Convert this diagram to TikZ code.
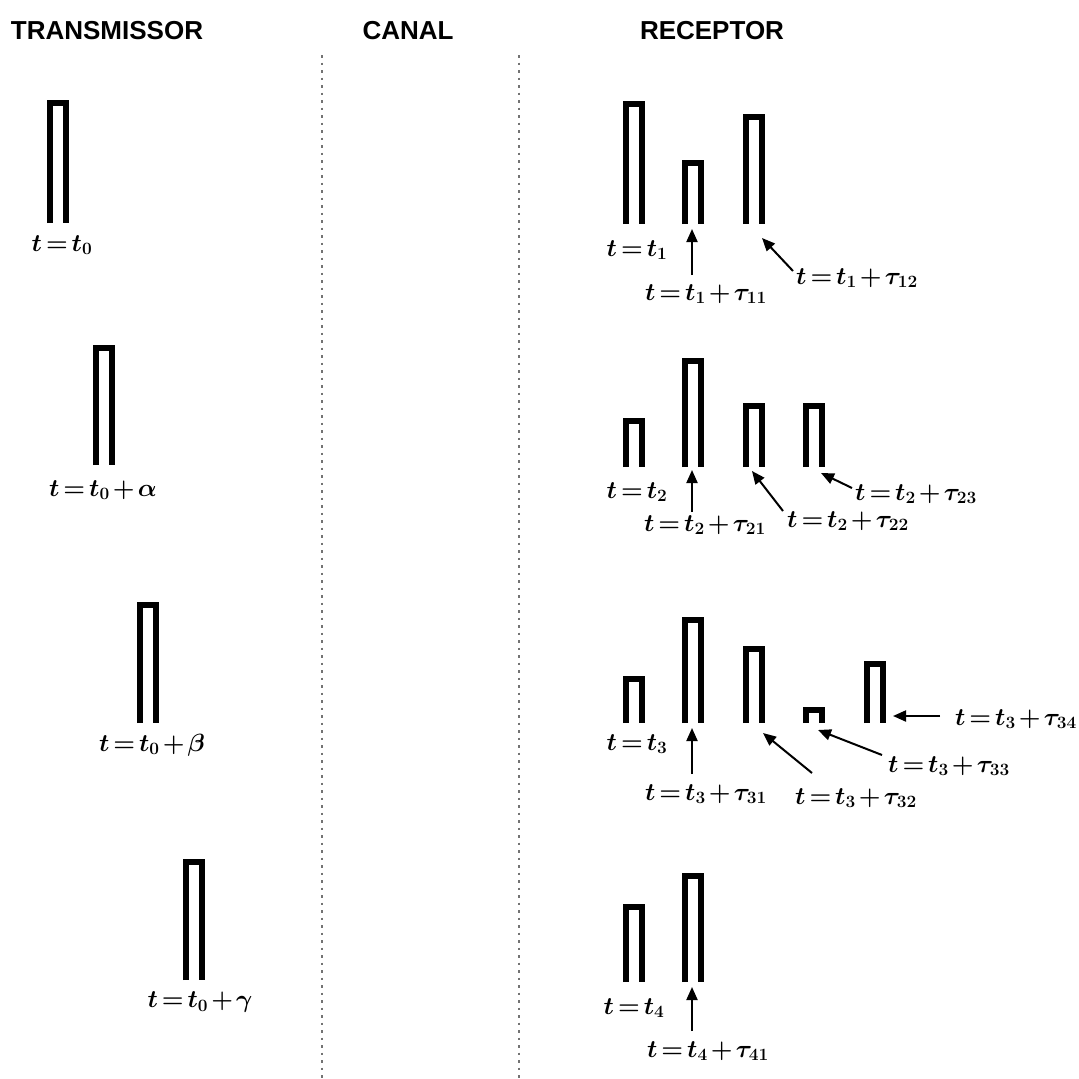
\documentclass[tikz,border=0pt]{standalone}
\usepackage{fontspec}
\setsansfont{Liberation Sans}
\usetikzlibrary{arrows.meta}
\newcommand{\tightmath}{\thickmuskip=2.5mu plus 1mu\medmuskip=2mu plus 1mu\relax}
\tikzset{
  hdr/.style={font=\sffamily\bfseries\fontsize{26}{30}\selectfont, inner sep=0pt},
  eqlab/.style={font=\boldmath\tightmath\fontsize{24}{28}\selectfont, inner sep=0pt},
  pulseline/.style={line width=6pt, line join=miter, line cap=butt},
  sep/.style={line width=2.5pt, black!55, dash pattern=on 2.5pt off 5pt},
  arr/.style={line width=2pt, -{Triangle[length=13pt,width=11pt]}}
}
% \pulsebox{xleft}{xright}{top}{bottom}
\newcommand{\pulsebox}[4]{\draw[pulseline] ({#1+3},#4) -- ({#1+3},{#3+3}) -- ({#2-3},{#3+3}) -- ({#2-3},#4);}
\begin{document}
\begin{tikzpicture}[x=1pt,y=-1pt]
\useasboundingbox (0,0) rectangle (1079,1079);
% headers
\node[hdr] (hT) at (107,31) {TRANSMISSOR};
\node[hdr] (hC) at (408,31) {CANAL};
\node[hdr] (hR) at (712,31) {RECEPTOR};
% separators
\coordinate (s1a) at (322,55); \coordinate (s1b) at (322,1079);
\coordinate (s2a) at (519,55); \coordinate (s2b) at (519,1079);
\draw[sep] (s1a) -- (s1b);
\draw[sep] (s2a) -- (s2b);
% transmitter pulses
\pulsebox{47}{69}{100}{223}
\pulsebox{93}{115}{345}{465}
\pulsebox{137}{159}{602}{723}
\pulsebox{183}{205}{859}{980}
\node[eqlab] (l0) at (62,245) {$t=t_0$};
\node[eqlab] (la) at (103,490) {$t=t_0+\alpha$};
\node[eqlab] (lb) at (152,745) {$t=t_0+\beta$};
\node[eqlab] (lg) at (200,1002) {$t=t_0+\gamma$};
% receptor row 1
\pulsebox{623}{645}{101}{224}
\pulsebox{682}{704}{160}{224}
\pulsebox{743}{765}{114}{224}
\node[eqlab] (r1) at (637,250) {$t=t_1$};
\node[eqlab] (r11) at (706,294) {$t=t_1+\tau_{11}$};
\node[eqlab] (r12) at (857,278) {$t=t_1+\tau_{12}$};
\coordinate (a11s) at (692,275); \coordinate (a11e) at (692,229);
\coordinate (a12s) at (793,271); \coordinate (a12e) at (762,238);
\draw[arr] (a11s) -- (a11e);
\draw[arr] (a12s) -- (a12e);
% receptor row 2
\pulsebox{623}{645}{418}{467}
\pulsebox{682}{704}{358}{467}
\pulsebox{743}{765}{403}{467}
\pulsebox{803}{825}{403}{467}
\node[eqlab] (r2) at (637,492) {$t=t_2$};
\node[eqlab] (r21) at (705,525) {$t=t_2+\tau_{21}$};
\node[eqlab] (r22) at (848,521) {$t=t_2+\tau_{22}$};
\node[eqlab] (r23) at (916,494) {$t=t_2+\tau_{23}$};
\coordinate (a21s) at (692,512); \coordinate (a21e) at (692,470);
\coordinate (a22s) at (783,511); \coordinate (a22e) at (752,471);
\coordinate (a23s) at (852,488); \coordinate (a23e) at (821,473);
\draw[arr] (a21s) -- (a21e);
\draw[arr] (a22s) -- (a22e);
\draw[arr] (a23s) -- (a23e);
% receptor row 3
\pulsebox{623}{645}{676}{723}
\pulsebox{682}{704}{617}{723}
\pulsebox{743}{765}{646}{723}
\pulsebox{803}{825}{707}{723}
\pulsebox{864}{886}{661}{723}
\node[eqlab] (r3) at (637,744) {$t=t_3$};
\node[eqlab] (r31) at (706,794) {$t=t_3+\tau_{31}$};
\node[eqlab] (r32) at (856,798) {$t=t_3+\tau_{32}$};
\node[eqlab] (r33) at (949,766) {$t=t_3+\tau_{33}$};
\node[eqlab, anchor=east] (r34) at (1077,719) {$t=t_3+\tau_{34}$};
\coordinate (a34s) at (940,716); \coordinate (a34e) at (893,716);
\coordinate (a31s) at (692,774); \coordinate (a31e) at (692,728);
\coordinate (a32s) at (812,773); \coordinate (a32e) at (763,733);
\coordinate (a33s) at (882,755); \coordinate (a33e) at (818,730);
\draw[arr] (a31s) -- (a31e);
\draw[arr] (a32s) -- (a32e);
\draw[arr] (a33s) -- (a33e);
\draw[arr] (a34s) -- (a34e);
% receptor row 4
\pulsebox{623}{645}{904}{982}
\pulsebox{682}{704}{873}{982}
\node[eqlab] (r4) at (634,1008) {$t=t_4$};
\node[eqlab] (r41) at (708,1051) {$t=t_4+\tau_{41}$};
\coordinate (a41s) at (692,1031); \coordinate (a41e) at (692,987);
\draw[arr] (a41s) -- (a41e);
\end{tikzpicture}
\end{document}
